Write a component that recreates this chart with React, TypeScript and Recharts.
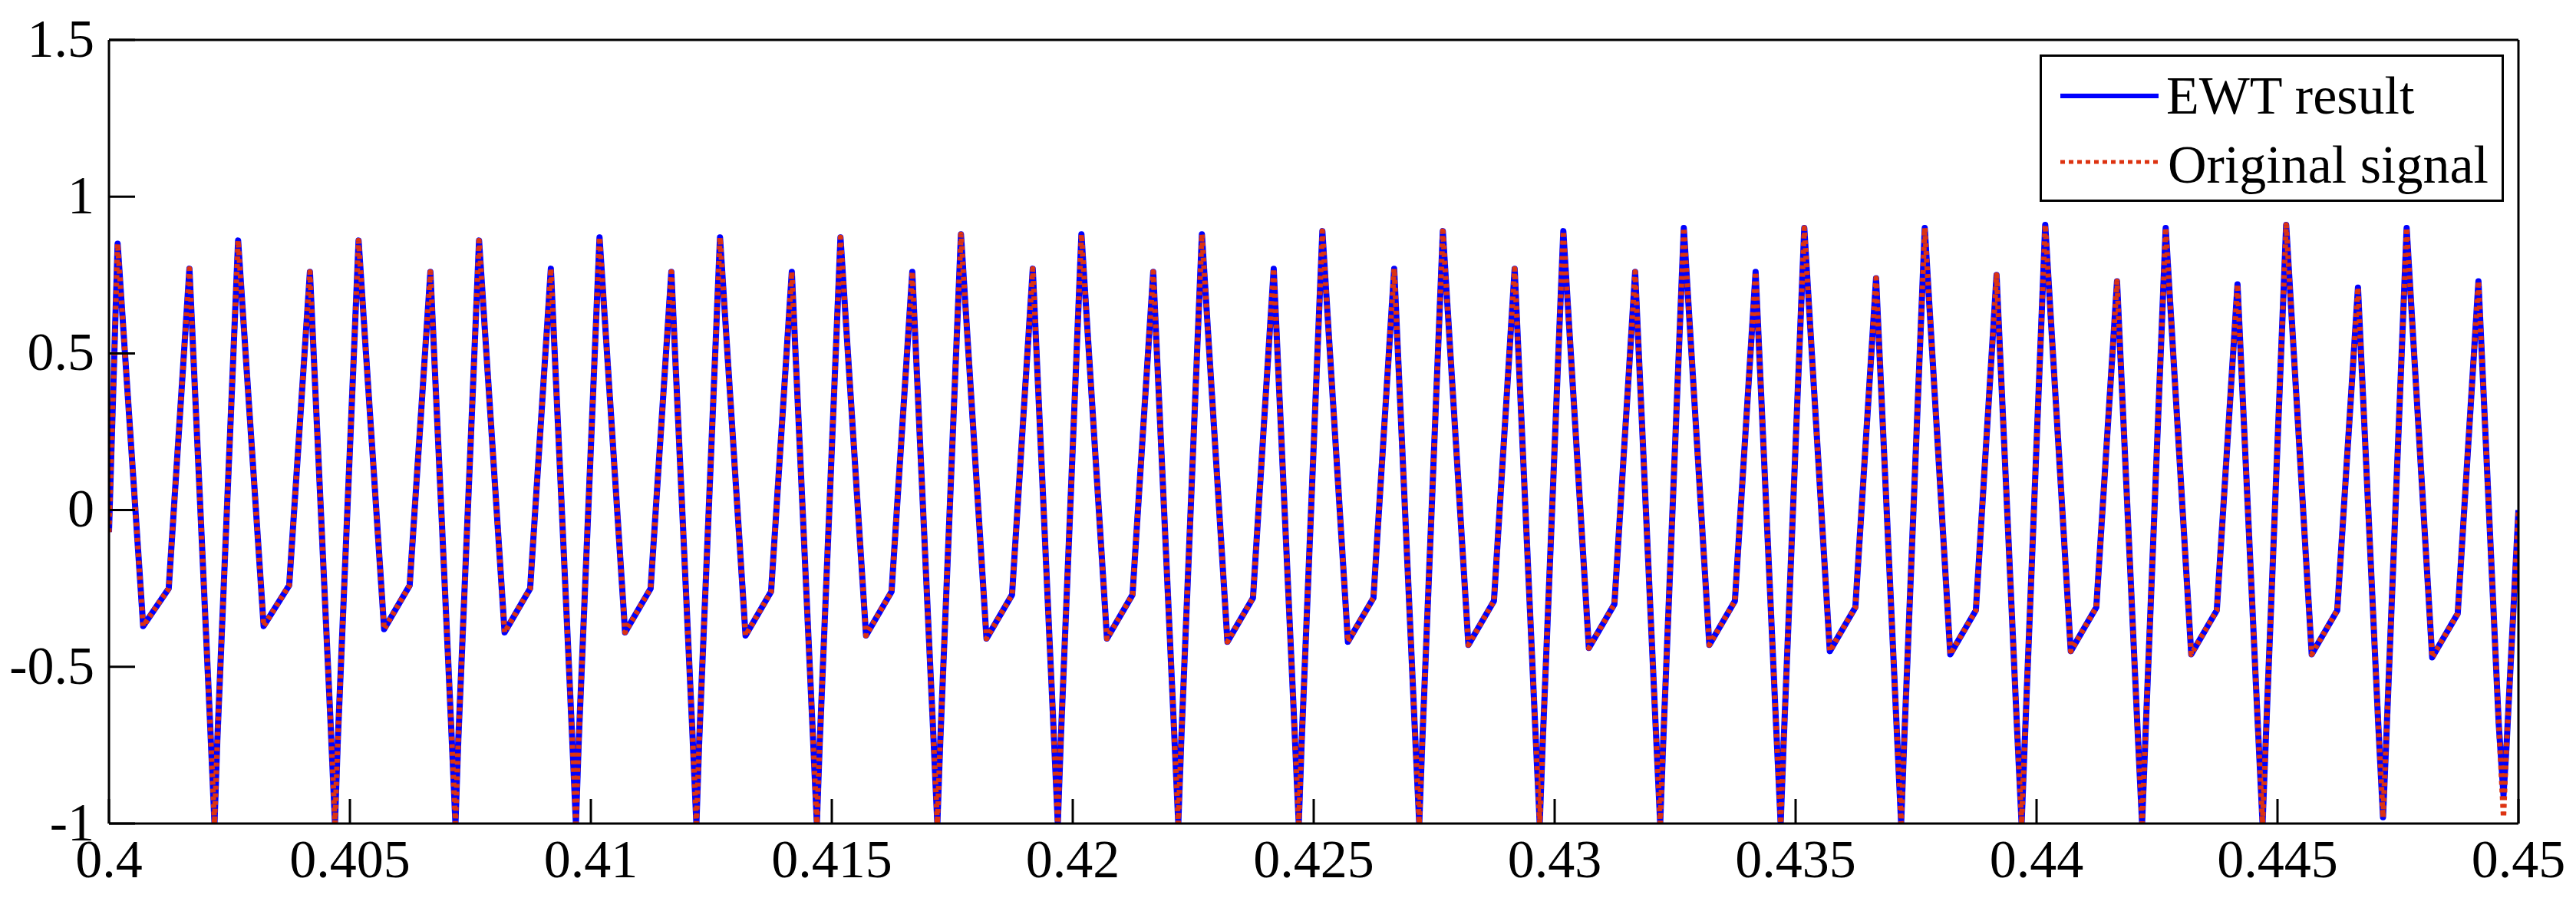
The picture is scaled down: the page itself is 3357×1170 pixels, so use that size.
import React from 'react';
import { LineChart, Line, XAxis, YAxis, Legend } from 'recharts';

const CHART_W = 3357;
const CHART_H = 1170;
const FONT = 'Liberation Serif, Times New Roman, Times, serif';

// time axis
const tStart = 0.4;
const tEnd = 0.45;
const periodMs = 2.5;
const xTicks = [0.4, 0.405, 0.41, 0.415, 0.42, 0.425, 0.43, 0.435, 0.44, 0.445, 0.45];
const yTicks = [-1, -0.5, 0, 0.5, 1, 1.5];

// vertex times inside each 2.5 ms period (ms): big peak, shallow dip, knee, mid peak, shoulder, deep dip, shoulder
const vertexOffsetsMs = [0.18, 0.71, 1.24, 1.67, 2.09, 2.19, 2.25];

// values read per period (20 periods)
const bigPeaks = [0.85, 0.86, 0.86, 0.86, 0.87, 0.87, 0.87, 0.88, 0.88, 0.88, 0.89, 0.89, 0.89, 0.9, 0.9, 0.9, 0.91, 0.9, 0.91, 0.9];
const shallowDips = [-0.37, -0.37, -0.38, -0.39, -0.39, -0.4, -0.4, -0.41, -0.41, -0.42, -0.42, -0.43, -0.44, -0.43, -0.45, -0.46, -0.45, -0.46, -0.46, -0.47];
const knees = [-0.25, -0.24, -0.24, -0.25, -0.25, -0.26, -0.26, -0.27, -0.27, -0.28, -0.28, -0.29, -0.3, -0.29, -0.31, -0.32, -0.31, -0.32, -0.32, -0.33];
const midPeaks = [0.77, 0.76, 0.76, 0.77, 0.76, 0.76, 0.76, 0.77, 0.76, 0.77, 0.77, 0.77, 0.76, 0.76, 0.74, 0.75, 0.73, 0.72, 0.71, 0.73];
const shouldersDown = [-0.65, -0.65, -0.65, -0.65, -0.65, -0.66, -0.66, -0.66, -0.66, -0.66, -0.67, -0.67, -0.67, -0.67, -0.67, -0.68, -0.68, -0.68, -0.68, -0.68];
const origDeepDips = [-1, -1, -1, -1, -1, -1, -1, -1, -1, -1, -1, -1, -1, -1, -1, -1, -1, -1, -0.98, -0.98];
const ewtDeepDips = [-1, -1, -1, -1, -1, -1, -1, -1, -1, -1, -1, -1, -1, -1, -1, -1, -1, -1, -0.98, -0.91];
const shouldersUp = [-0.73, -0.73, -0.73, -0.73, -0.73, -0.74, -0.74, -0.74, -0.74, -0.74, -0.75, -0.75, -0.75, -0.75, -0.75, -0.76, -0.76, -0.76, -0.76, -0.76];
const startValue = -0.07;
const endValue = 0.0;

type Row = { t: number; ewt: number; orig: number };

const buildRows = (): Row[] => {
  const rows: Row[] = [{ t: tStart, ewt: startValue, orig: startValue }];
  bigPeaks.forEach((_, k) => {
    const origVals = [bigPeaks[k], shallowDips[k], knees[k], midPeaks[k], shouldersDown[k], origDeepDips[k], shouldersUp[k]];
    const ewtVals = [bigPeaks[k], shallowDips[k], knees[k], midPeaks[k], shouldersDown[k], ewtDeepDips[k], shouldersUp[k]];
    vertexOffsetsMs.forEach((off, i) => {
      rows.push({ t: tStart + (k * periodMs + off) / 1000, ewt: ewtVals[i], orig: origVals[i] });
    });
  });
  rows.push({ t: tEnd, ewt: endValue, orig: endValue });
  return rows;
};

const data = buildRows();

const BLUE = '#0000FF';
const RED = '#DD3311';

const LegendBox = () => (
  <div
    style={{
      width: 605,
      height: 192,
      boxSizing: 'border-box',
      border: '3px solid #000',
      background: '#fff',
      position: 'relative',
    }}
  >
    <svg width={605} height={192} style={{ position: 'absolute', left: -3, top: -3 }}>
      <line x1={27} x2={155} y1={54} y2={54} stroke={BLUE} strokeWidth={6} />
      <line x1={27} x2={155} y1={140} y2={140} stroke={RED} strokeWidth={5} strokeDasharray="6 5" />
      <text x={165} y={77} style={{ fontFamily: FONT, fontSize: 70 }} fill="#000">EWT result</text>
      <text x={167} y={167} style={{ fontFamily: FONT, fontSize: 70 }} fill="#000">Original signal</text>
    </svg>
  </div>
);

const xTickStyle = { fontFamily: FONT, fontSize: 70, fill: '#000', style: { fontFamily: FONT } };
const yTickStyle = { fontFamily: FONT, fontSize: 70, fill: '#000', dy: -3, style: { fontFamily: FONT } };
const lineStyle = { stroke: '#000', strokeWidth: 3 };

export default function App() {
  return (
    <div style={{ width: CHART_W, height: CHART_H, background: '#fff', fontFamily: FONT }}>
      <style>{'body{margin:0;background:#fff;}'}</style>
      <LineChart
        width={CHART_W}
        height={CHART_H}
        data={data}
        margin={{ top: 50, right: 73, bottom: 7, left: 12 }}
        style={{ fontFamily: FONT }}
      >
        <XAxis
          xAxisId="b"
          type="number"
          dataKey="t"
          domain={[tStart, tEnd]}
          allowDataOverflow
          ticks={xTicks}
          interval={0}
          tickFormatter={(v: number) => String(v)}
          height={90}
          tickSize={-32}
          tickMargin={52}
          tick={xTickStyle}
          axisLine={lineStyle}
          tickLine={lineStyle}
        />
        <XAxis
          xAxisId="top"
          orientation="top"
          type="number"
          dataKey="t"
          domain={[tStart, tEnd]}
          allowDataOverflow
          ticks={xTicks}
          interval={0}
          height={2}
          tickSize={-32}
          tick={false}
          axisLine={lineStyle}
          tickLine={lineStyle}
        />
        <YAxis
          yAxisId="l"
          type="number"
          domain={[-1, 1.5]}
          allowDataOverflow
          ticks={yTicks}
          interval={0}
          width={130}
          tickSize={-34}
          tickMargin={53}
          tick={yTickStyle}
          tickFormatter={(v: number) => String(v)}
          axisLine={lineStyle}
          tickLine={lineStyle}
        />
        <YAxis
          yAxisId="r"
          orientation="right"
          type="number"
          domain={[-1, 1.5]}
          allowDataOverflow
          ticks={yTicks}
          interval={0}
          width={2}
          tickSize={-34}
          tick={false}
          axisLine={lineStyle}
          tickLine={lineStyle}
        />
        <Line
          xAxisId="b"
          yAxisId="l"
          type="linear"
          dataKey="ewt"
          name="EWT result"
          stroke={BLUE}
          strokeWidth={8}
          strokeLinejoin="round"
          dot={false}
          activeDot={false}
          isAnimationActive={false}
        />
        <Line
          xAxisId="b"
          yAxisId="l"
          type="linear"
          dataKey="orig"
          name="Original signal"
          stroke={RED}
          strokeWidth={7}
          strokeDasharray="5 5"
          strokeLinejoin="round"
          dot={false}
          activeDot={false}
          isAnimationActive={false}
        />
        <Legend
          layout="horizontal"
          verticalAlign="middle"
          align="center"
          content={() => <LegendBox />}
          wrapperStyle={{ left: 2658, top: 71, width: 605, height: 192 }}
        />
      </LineChart>
    </div>
  );
}
